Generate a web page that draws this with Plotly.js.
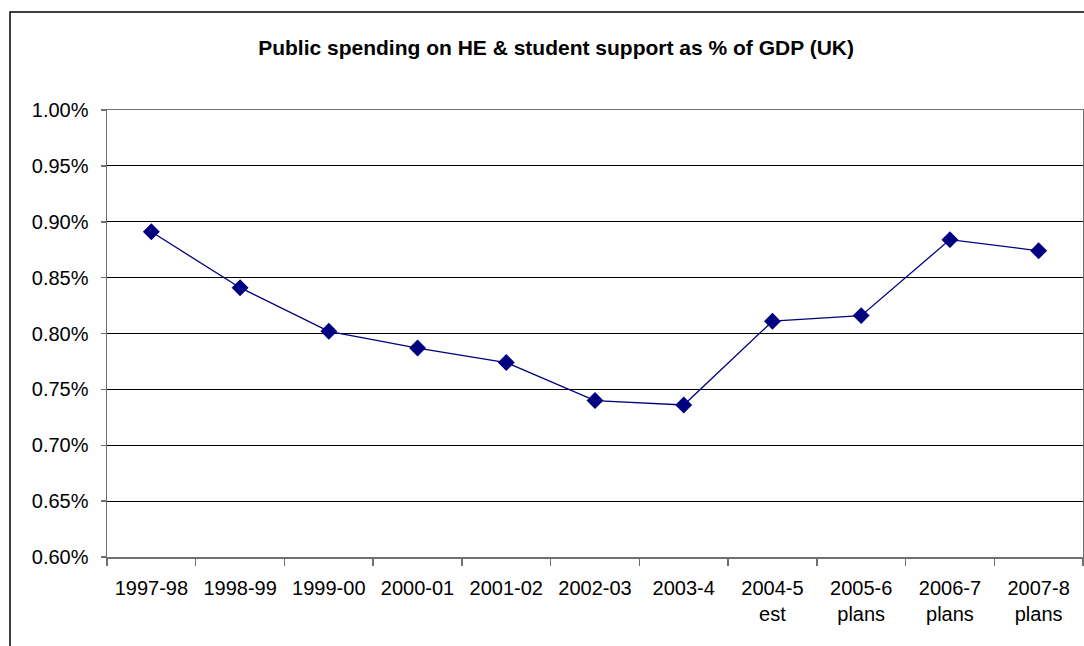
<!DOCTYPE html>
<html>
<head>
<meta charset="utf-8">
<script src="https://cdn.plot.ly/plotly-3.0.1.min.js"></script>
<style>html,body{margin:0;padding:0;background:#fff;}#chart{width:1084px;height:646px;}</style>
</head>
<body>
<div id="chart"></div>
<script>
const categories = ["1997-98","1998-99","1999-00","2000-01","2001-02","2002-03","2003-4","2004-5","2005-6","2006-7","2007-8"];
const tickLabels = ["1997-98","1998-99","1999-00","2000-01","2001-02","2002-03","2003-4","2004-5<br>est","2005-6<br>plans","2006-7<br>plans","2007-8<br>plans"];
const spendingShare = [0.00891,0.00841,0.00802,0.00787,0.00774,0.00740,0.00736,0.00811,0.00816,0.00884,0.00874];
const yTicks = [0.006,0.0065,0.007,0.0075,0.008,0.0085,0.009,0.0095,0.010];
const chartTitle = "Public spending on HE & student support as % of GDP (UK)";

const fontFamily = "Liberation Sans, Arial, sans-serif";

const trace = {
  type: "scatter",
  mode: "lines+markers",
  x: categories,
  y: spendingShare,
  line: {color: "#000080", width: 1.3},
  marker: {symbol: "diamond", size: 13, color: "#000080"},
  hoverinfo: "x+y"
};

const layout = {
  width: 1084,
  height: 646,
  margin: {l: 107, r: 1, t: 110, b: 89},
  paper_bgcolor: "#ffffff",
  plot_bgcolor: "#ffffff",
  showlegend: false,
  font: {family: fontFamily, color: "#000000", size: 20},
  title: {
    text: "<b>" + chartTitle + "</b>",
    font: {family: fontFamily, size: 21, color: "#000000"},
    xref: "container", x: 0.513, xanchor: "center",
    yref: "container", y: 1 - 48/646, yanchor: "middle"
  },
  xaxis: {
    type: "category",
    tickmode: "array",
    tickvals: categories,
    ticktext: tickLabels,
    tickson: "boundaries",
    ticks: "outside",
    ticklen: 7,
    tickcolor: "#707070",
    tickwidth: 1.5,
    ticklabelstandoff: 12,
    showgrid: false,
    showline: true,
    linecolor: "#707070",
    linewidth: 1.5,
    mirror: true,
    zeroline: false,
    tickfont: {family: fontFamily, size: 20, color: "#000000"},
    range: [-0.5, categories.length - 0.5],
    fixedrange: true
  },
  yaxis: {
    range: [0.006, 0.010],
    tickmode: "array",
    tickvals: yTicks,
    tickformat: ".2%",
    ticks: "outside",
    ticklen: 5,
    tickcolor: "#707070",
    tickwidth: 1.5,
    ticklabelstandoff: 8,
    showgrid: true,
    gridcolor: "#000000",
    gridwidth: 1,
    showline: true,
    linecolor: "#707070",
    linewidth: 1.5,
    mirror: true,
    zeroline: false,
    tickfont: {family: fontFamily, size: 20, color: "#000000"},
    fixedrange: true
  },
  shapes: [{
    type: "rect",
    xref: "paper", yref: "paper",
    x0: (10 - 107) / 976, x1: 1.2,
    y0: -0.5, y1: (557 - 12) / 447,
    line: {color: "#000000", width: 1.5},
    fillcolor: "rgba(0,0,0,0)",
    layer: "below"
  }]
};

Plotly.newPlot("chart", [trace], layout, {displayModeBar: false, staticPlot: true});
</script>
</body>
</html>
